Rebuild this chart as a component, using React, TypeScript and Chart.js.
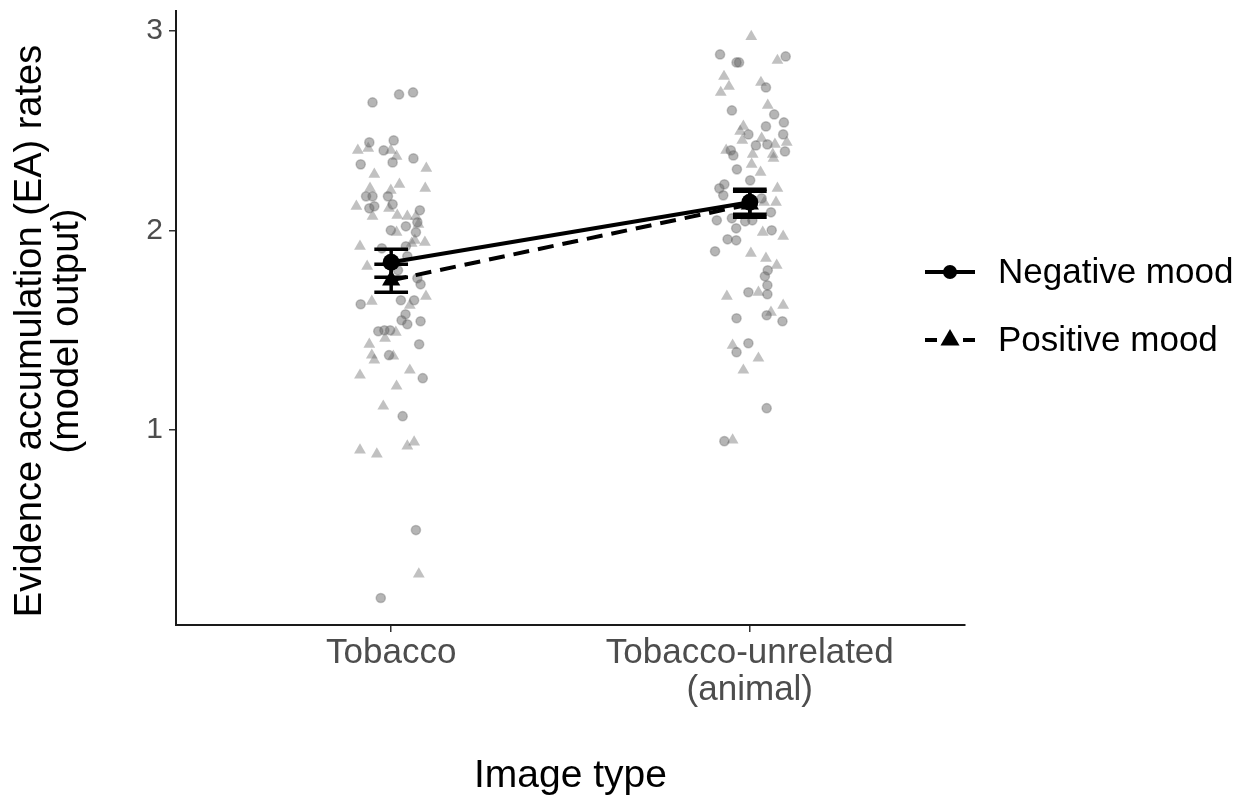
import React, { useEffect, useRef } from 'react';
import { Chart, registerables } from 'chart.js';

Chart.register(...registerables);

// ---------- data ----------
const categories: (string | string[])[] = ['Tobacco', ['Tobacco-unrelated', '(animal)']];
const categoryPositions = [1, 2];
const seriesNames = ['Negative mood', 'Positive mood'];
const yTicks = [1, 2, 3];
const xTitle = 'Image type';
const yTitleLines = ['Evidence accumulation (EA) rates', '(model output)'];

const negMeans = [1.84, 2.14];
const negLower = [1.765, 2.08];
const negUpper = [1.905, 2.205];
const posMeans = [1.75, 2.13];
const posLower = [1.69, 2.065];
const posUpper = [1.83, 2.195];

// raw (jittered) observations: offset from category position, and value
const negTobaccoJitter = [-0.052, 0.022, 0.061, -0.061, 0.007, -0.021, 0.004, 0.062, -0.085, -0.07, -0.052, -0.009, -0.047, -0.061, 0.004, 0.08, 0.041, 0.073, -0.001, 0.069, 0.041, -0.026, 0.045, 0.073, 0.082, -0.085, 0.027, 0.064, 0.04, 0.029, 0.045, 0.082, -0.036, -0.019, -0.003, 0.078, -0.006, 0.088, 0.032, 0.069, -0.029, 0.019];
const negTobaccoValues = [2.64, 2.68, 2.69, 2.44, 2.45, 2.4, 2.34, 2.36, 2.33, 2.17, 2.17, 2.17, 2.12, 2.11, 2.13, 2.1, 2.02, 2.04, 2.0, 1.99, 1.92, 1.91, 1.87, 1.76, 1.73, 1.63, 1.65, 1.65, 1.58, 1.55, 1.53, 1.545, 1.495, 1.5, 1.5, 1.43, 1.375, 1.26, 1.07, 0.5, 0.16, 1.8];

const posTobaccoJitter = [-0.093, -0.064, -0.001, 0.015, 0.098, -0.047, 0.023, 0.095, -0.059, -0.001, -0.097, -0.052, -0.006, 0.017, 0.045, 0.069, 0.076, 0.015, 0.066, 0.094, -0.087, -0.067, -0.054, 0.097, 0.052, -0.017, 0.013, -0.061, -0.054, -0.047, 0.006, 0.052, -0.087, 0.015, -0.022, -0.087, -0.04, 0.045, 0.064, 0.077, 0.057];
const posTobaccoValues = [2.4, 2.41, 2.4, 2.37, 2.31, 2.28, 2.23, 2.21, 2.21, 2.2, 2.12, 2.07, 2.11, 2.075, 2.07, 2.07, 2.03, 1.99, 1.95, 1.94, 1.92, 1.82, 1.645, 1.67, 1.625, 1.46, 1.49, 1.43, 1.375, 1.35, 1.37, 1.3, 1.275, 1.22, 1.12, 0.9, 0.88, 0.92, 0.94, 0.28, 1.935];

const negAnimalJitter = [-0.083, -0.037, -0.03, 0.1, 0.045, -0.05, 0.068, 0.095, 0.045, -0.004, 0.093, 0.017, 0.049, -0.053, -0.046, 0.098, -0.036, 0.001, -0.071, -0.085, -0.074, 0.033, 0.059, -0.092, -0.05, -0.013, 0.007, -0.038, 0.061, -0.062, -0.038, -0.097, 0.05, 0.042, 0.049, -0.004, 0.049, -0.037, 0.047, 0.091, -0.004, -0.037, 0.047, -0.071];
const negAnimalValues = [2.88, 2.84, 2.84, 2.87, 2.715, 2.6, 2.58, 2.54, 2.52, 2.48, 2.48, 2.425, 2.43, 2.4, 2.375, 2.395, 2.305, 2.25, 2.23, 2.21, 2.175, 2.16, 2.09, 2.05, 2.06, 2.045, 2.05, 2.01, 2.0, 1.955, 1.95, 1.895, 1.8, 1.77, 1.725, 1.69, 1.68, 1.56, 1.575, 1.545, 1.435, 1.39, 1.11, 0.945];

const posAnimalJitter = [0.004, 0.077, -0.072, -0.058, -0.081, 0.031, 0.05, -0.018, -0.027, -0.021, 0.033, 0.07, 0.103, -0.066, 0.008, 0.064, 0.066, 0.005, 0.03, 0.077, 0.073, 0.04, 0.036, 0.093, 0.003, 0.045, 0.075, -0.064, 0.024, 0.093, 0.059, -0.048, 0.024, -0.018, -0.048];
const posAnimalValues = [2.97, 2.85, 2.77, 2.72, 2.69, 2.74, 2.625, 2.52, 2.495, 2.45, 2.46, 2.43, 2.44, 2.4, 2.38, 2.38, 2.36, 2.33, 2.29, 2.21, 2.14, 2.14, 1.99, 1.97, 1.885, 1.86, 1.825, 1.67, 1.69, 1.625, 1.59, 1.425, 1.36, 1.3, 0.95];

// ---------- helpers ----------
const FONT = '"Liberation Sans", Arial, Helvetica, sans-serif';

function toPoints(center: number, jitter: number[], values: number[]) {
  return values.map((v, i) => ({ x: center + jitter[i], y: v }));
}

const errorBarPlugin = {
  id: 'errorBars',
  afterDatasetsDraw(chart: any) {
    const { ctx } = chart;
    const xs = chart.scales.x;
    const ys = chart.scales.y;
    const capHalf = 0.047;
    chart.data.datasets.forEach((ds: any) => {
      if (!ds.errLow) return;
      ctx.save();
      ctx.strokeStyle = '#000';
      ctx.lineWidth = 3.5;
      ctx.lineCap = 'butt';
      categoryPositions.forEach((cx, i) => {
        const px = xs.getPixelForValue(cx);
        const pl = xs.getPixelForValue(cx - capHalf);
        const pr = xs.getPixelForValue(cx + capHalf);
        const yl = ys.getPixelForValue(ds.errLow[i]);
        const yh = ys.getPixelForValue(ds.errHigh[i]);
        ctx.beginPath();
        ctx.moveTo(px, yl);
        ctx.lineTo(px, yh);
        ctx.moveTo(pl, yl);
        ctx.lineTo(pr, yl);
        ctx.moveTo(pl, yh);
        ctx.lineTo(pr, yh);
        ctx.stroke();
      });
      ctx.restore();
    });
  },
};

const decorPlugin = {
  id: 'decor',
  afterDraw(chart: any) {
    const { ctx, chartArea } = chart;
    ctx.save();
    // y title
    ctx.fillStyle = '#000';
    ctx.font = `38px ${FONT}`;
    ctx.textAlign = 'center';
    ctx.textBaseline = 'middle';
    ctx.save();
    ctx.translate(31, 331);
    ctx.rotate(-Math.PI / 2);
    yTitleLines.forEach((line, i) => ctx.fillText(line, 0, i * 37));
    ctx.restore();
    // x title
    ctx.font = `39px ${FONT}`;
    ctx.fillText(xTitle, (chartArea.left + chartArea.right) / 2, 776);

    // legend
    const lx0 = chartArea.right - 40;
    const lx1 = lx0 + 50;
    const lmid = (lx0 + lx1) / 2;
    const rows = [272, 340];
    ctx.strokeStyle = '#000';
    ctx.fillStyle = '#000';
    ctx.lineWidth = 4;
    // negative
    ctx.beginPath();
    ctx.moveTo(lx0, rows[0]);
    ctx.lineTo(lx1, rows[0]);
    ctx.stroke();
    ctx.beginPath();
    ctx.arc(lmid, rows[0], 7, 0, Math.PI * 2);
    ctx.fill();
    // positive
    ctx.setLineDash([12, 26]);
    ctx.beginPath();
    ctx.moveTo(lx0, rows[1]);
    ctx.lineTo(lx1, rows[1]);
    ctx.stroke();
    ctx.setLineDash([]);
    const r = 11;
    ctx.beginPath();
    ctx.moveTo(lmid, rows[1] - r);
    ctx.lineTo(lmid + r * Math.sin(Math.PI / 3), rows[1] + r / 2);
    ctx.lineTo(lmid - r * Math.sin(Math.PI / 3), rows[1] + r / 2);
    ctx.closePath();
    ctx.fill();
    ctx.font = `35px ${FONT}`;
    ctx.textAlign = 'left';
    ctx.textBaseline = 'middle';
    seriesNames.forEach((name, i) => ctx.fillText(name, lx1 + 23, rows[i] + 1));
    ctx.restore();
  },
};

export default function App() {
  const canvasRef = useRef<HTMLCanvasElement | null>(null);

  useEffect(() => {
    if (!canvasRef.current) return;
    const circleFill = 'rgba(100,100,100,0.48)';
    const circleEdge = 'rgba(100,100,100,0.35)';
    const triFill = 'rgba(100,100,100,0.4)';

    const chart = new Chart(canvasRef.current, {
      type: 'scatter',
      data: {
        datasets: [
          {
            label: seriesNames[0],
            data: categoryPositions.map((x, i) => ({ x, y: negMeans[i] })),
            showLine: true,
            borderColor: '#000',
            borderWidth: 4,
            pointStyle: 'circle',
            pointRadius: 8.5,
            pointBackgroundColor: '#000',
            pointBorderColor: '#000',
            pointBorderWidth: 0,
            order: 0,
            errLow: negLower,
            errHigh: negUpper,
          } as any,
          {
            label: seriesNames[1],
            data: categoryPositions.map((x, i) => ({ x, y: posMeans[i] })),
            showLine: true,
            borderColor: '#000',
            borderWidth: 4,
            borderDash: [16, 9],
            pointStyle: 'triangle',
            pointRadius: 10.5,
            pointBackgroundColor: '#000',
            pointBorderColor: '#000',
            pointBorderWidth: 0,
            order: 1,
            errLow: posLower,
            errHigh: posUpper,
          } as any,
          {
            label: 'neg raw tobacco',
            data: toPoints(categoryPositions[0], negTobaccoJitter, negTobaccoValues),
            pointStyle: 'circle',
            pointRadius: 4.6,
            backgroundColor: circleFill,
            borderColor: circleEdge,
            borderWidth: 1.5,
            order: 5,
          },
          {
            label: 'neg raw animal',
            data: toPoints(categoryPositions[1], negAnimalJitter, negAnimalValues),
            pointStyle: 'circle',
            pointRadius: 4.6,
            backgroundColor: circleFill,
            borderColor: circleEdge,
            borderWidth: 1.5,
            order: 5,
          },
          {
            label: 'pos raw tobacco',
            data: toPoints(categoryPositions[0], posTobaccoJitter, posTobaccoValues),
            pointStyle: 'triangle',
            pointRadius: 6.8,
            backgroundColor: triFill,
            borderWidth: 0,
            order: 5,
          },
          {
            label: 'pos raw animal',
            data: toPoints(categoryPositions[1], posAnimalJitter, posAnimalValues),
            pointStyle: 'triangle',
            pointRadius: 6.8,
            backgroundColor: triFill,
            borderWidth: 0,
            order: 5,
          },
        ],
      },
      options: {
        animation: false,
        responsive: false,
        events: [],
        layout: { padding: { left: 0, top: 10, right: 289, bottom: 0 } },
        plugins: {
          legend: { display: false },
          tooltip: { enabled: false },
        },
        scales: {
          x: {
            type: 'linear',
            position: 'bottom',
            min: 0.4,
            max: 2.6,
            afterBuildTicks: (scale: any) => {
              scale.ticks = categoryPositions.map((v) => ({ value: v }));
            },
            afterFit: (scale: any) => {
              scale.height = 178;
              scale.paddingLeft = 0;
              scale.paddingRight = 0;
            },
            ticks: {
              autoSkip: false,
              maxRotation: 0,
              padding: 3,
              color: '#4d4d4d',
              font: { family: FONT, size: 35, lineHeight: 1.05 },
              callback: (value: any) => {
                const idx = categoryPositions.indexOf(Number(value));
                return idx >= 0 ? (categories[idx] as any) : '';
              },
            },
            grid: { drawOnChartArea: false, drawTicks: true, tickLength: 7, color: '#333', lineWidth: 1.5 },
            border: { display: true, color: '#1a1a1a', width: 2 },
          },
          y: {
            type: 'linear',
            min: 0.025,
            max: 3.1,
            afterBuildTicks: (scale: any) => {
              scale.ticks = yTicks.map((v) => ({ value: v }));
            },
            afterFit: (scale: any) => {
              scale.width = 176;
              scale.paddingTop = 0;
              scale.paddingBottom = 0;
            },
            ticks: {
              padding: 6,
              color: '#4d4d4d',
              font: { family: FONT, size: 30 },
            },
            grid: { drawOnChartArea: false, drawTicks: true, tickLength: 7, color: '#333', lineWidth: 1.5 },
            border: { display: true, color: '#1a1a1a', width: 2 },
          },
        },
      } as any,
      plugins: [errorBarPlugin, decorPlugin],
    });
    return () => chart.destroy();
  }, []);

  return (
    <div style={{ position: 'absolute', left: 0, top: 0, width: 1254, height: 803, background: '#fff' }}>
      <canvas ref={canvasRef} width={1254} height={803} />
    </div>
  );
}
